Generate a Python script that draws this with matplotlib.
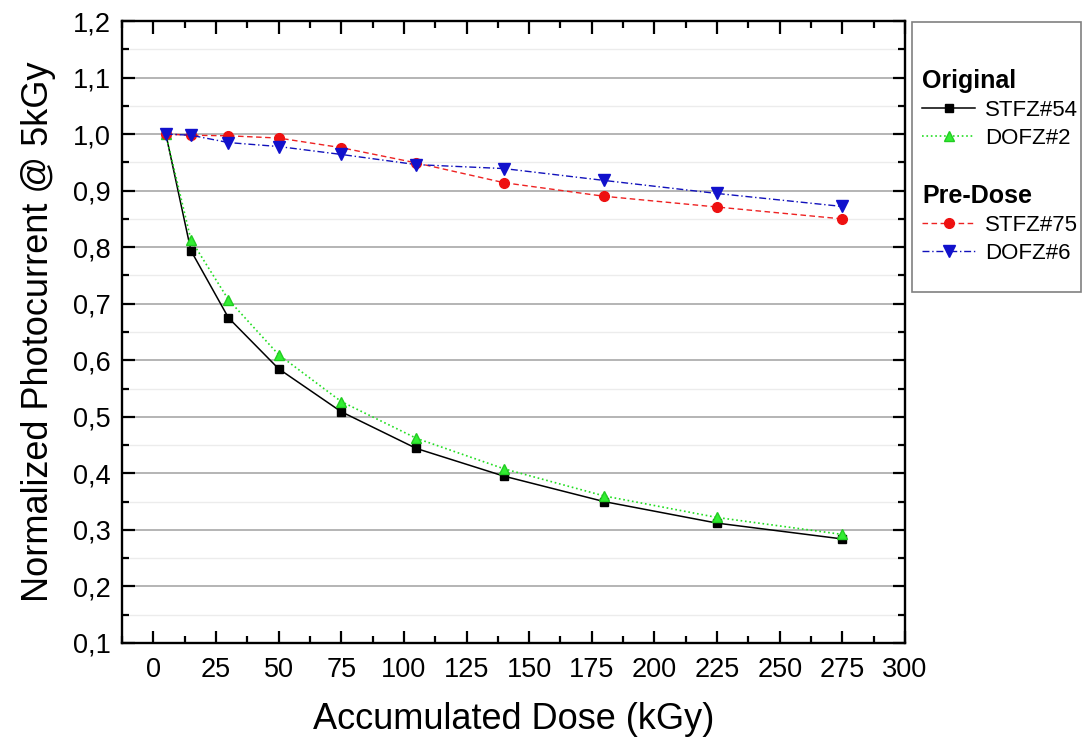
import matplotlib
matplotlib.use("Agg")
import matplotlib.pyplot as plt
from matplotlib.ticker import MultipleLocator, FuncFormatter
from matplotlib.patches import Rectangle

plt.rcParams['font.family'] = ['Liberation Sans', 'DejaVu Sans']

dose = [5, 15, 30, 50, 75, 105, 140, 180, 225, 275]
stfz54 = [1.0, 0.794, 0.675, 0.585, 0.509, 0.444, 0.395, 0.350, 0.312, 0.284]
dofz2 = [1.0, 0.813, 0.707, 0.610, 0.527, 0.462, 0.408, 0.360, 0.322, 0.292]
stfz75 = [1.0, 0.998, 0.997, 0.993, 0.976, 0.949, 0.914, 0.890, 0.871, 0.850]
dofz6 = [1.0, 0.998, 0.985, 0.978, 0.964, 0.946, 0.939, 0.918, 0.895, 0.872]

xticks = list(range(0, 301, 25))
yticks = [0.1, 0.2, 0.3, 0.4, 0.5, 0.6, 0.7, 0.8, 0.9, 1.0, 1.1, 1.2]

fig = plt.figure(figsize=(10.84, 7.42), dpi=100)
ax = fig.add_axes([122/1084, 99/742, (905-122)/1084, (643-21)/742])

l1, = ax.plot(dose, stfz54, color='black', lw=1.1, ls='-', marker='s', ms=6, label='STFZ#54')
l2, = ax.plot(dose, dofz2, color='#22dd22', lw=1.2, ls=':', marker='^', ms=7.5,
              markerfacecolor='#33ee33', markeredgecolor='#22cc22', label='DOFZ#2')
l3, = ax.plot(dose, stfz75, color='#ee2222', lw=1.0, ls=(0, (4, 2.5)), marker='o', ms=7,
              markerfacecolor='#ee1111', markeredgecolor='#ee1111', label='STFZ#75')
l4, = ax.plot(dose, dofz6, color='#1111bb', lw=1.0, ls=(0, (5, 2, 1, 2)), marker='v', ms=8,
              markerfacecolor='#1111cc', markeredgecolor='#1111cc', label='DOFZ#6')

ax.set_xlim(-12.5, 300)
ax.set_ylim(0.1, 1.2)
ax.set_xticks(xticks)
ax.set_yticks(yticks)
ax.xaxis.set_minor_locator(MultipleLocator(12.5))
ax.yaxis.set_minor_locator(MultipleLocator(0.05))
ax.yaxis.set_major_formatter(FuncFormatter(lambda v, p: f"{v:.1f}".replace('.', ',')))
ax.xaxis.set_major_formatter(FuncFormatter(lambda v, p: f"{v:.0f}"))

ax.tick_params(which='both', direction='in', top=True, right=True, labelsize=19.5,
               width=1.6, colors='black')
ax.tick_params(which='major', length=9)
ax.tick_params(which='minor', length=5)
ax.tick_params(axis='x', which='major', pad=10)
ax.tick_params(axis='y', which='major', pad=8)
for s in ax.spines.values():
    s.set_linewidth(1.7)

ax.grid(axis='y', which='major', color='#a8a8a8', lw=1.2)
ax.grid(axis='y', which='minor', color='#ececec', lw=1.0)
ax.set_axisbelow(True)

ax.set_xlabel('Accumulated Dose (kGy)', fontsize=26, labelpad=14)
ax.set_ylabel('Normalized Photocurrent @ 5kGy', fontsize=26, labelpad=12)

# legend frame
W, H = 1084, 742
fig.patches.append(Rectangle((912/W, 1 - 292/H), (1081-912)/W, (292-22)/H,
                             transform=fig.transFigure, fill=False, edgecolor='#808080', lw=1.2))

common = dict(frameon=False, alignment='left', fontsize=16, handlelength=2.4,
              handletextpad=0.45, labelspacing=0.32, borderpad=0, borderaxespad=0,
              title_fontproperties={'weight': 'bold', 'size': 18})
leg1 = fig.legend(handles=[l1, l2], title='Original', loc='upper left',
                  bbox_to_anchor=(922/W, 1 - 69/H), **common)
leg2 = fig.legend(handles=[l3, l4], title='Pre-Dose', loc='upper left',
                  bbox_to_anchor=(922/W, 1 - 184/H), **common)
for lg in (leg1, leg2):
    lg._legend_box.sep = 5

fig.savefig('out.png', dpi=100)
